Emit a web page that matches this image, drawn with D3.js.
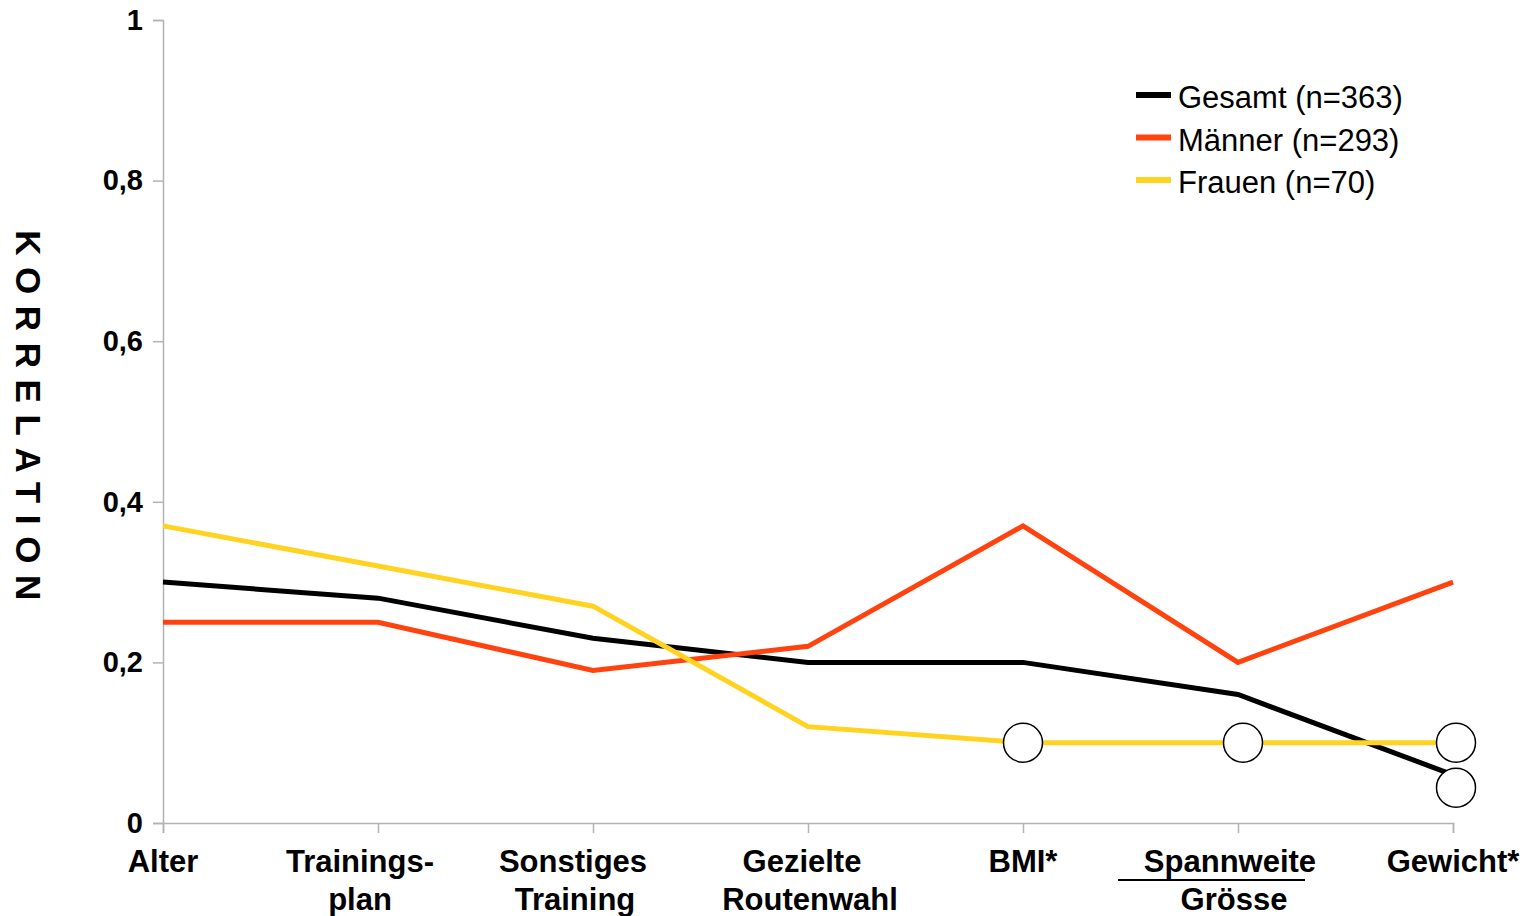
<!DOCTYPE html>
<html><head><meta charset="utf-8">
<script src="https://cdn.jsdelivr.net/npm/d3@7"></script>
<style>
html,body{margin:0;padding:0;background:#fff;}
svg{display:block;}
</style></head>
<body>
<svg id="chart" width="1528" height="916"></svg>
<script>
// ---- data ----
const categories = ["Alter", "Trainingsplan", "Sonstiges Training", "Gezielte Routenwahl", "BMI*", "Spannweite/Grösse", "Gewicht*"];
const categoryLabels = [["Alter"], ["Trainings-", "plan"], ["Sonstiges", "Training"], ["Gezielte", "Routenwahl"], ["BMI*"], ["Spannweite", "Grösse"], ["Gewicht*"]];
const gesamt = [0.30, 0.28, 0.23, 0.20, 0.20, 0.16, 0.06];
const maenner = [0.25, 0.25, 0.19, 0.22, 0.37, 0.20, 0.30];
const frauen = [0.37, 0.32, 0.27, 0.12, 0.10, 0.10, 0.10];
const seriesNames = ["Gesamt (n=363)", "Männer (n=293)", "Frauen (n=70)"];
const yTicks = [0, 0.2, 0.4, 0.6, 0.8, 1];
const yTickLabels = ["0", "0,2", "0,4", "0,6", "0,8", "1"];
// circled (highlighted) points: category index, value
const markerCats = [4, 5, 6, 6];
const markerVals = [0.10, 0.10, 0.10, 0.044];

const colors = ["#000000", "#ff420e", "#ffd320"];
const seriesValues = [gesamt, maenner, frauen];

const FONT = "Liberation Sans, Arial, sans-serif";
const svg = d3.select("#chart");
const x = d3.scalePoint().domain(categories).range([163, 1453]);
const y = d3.scaleLinear().domain([0, 1]).range([823, 20]);
const axisColor = "#b3b3b3";

// y axis
const yAxis = svg.append("g").attr("transform", "translate(163,0)")
  .call(d3.axisLeft(y).tickValues(yTicks).tickSize(10).tickPadding(10)
    .tickFormat((d, i) => yTickLabels[i]));
yAxis.select(".domain").attr("stroke", axisColor).attr("stroke-width", 1.5);
yAxis.selectAll(".tick line").attr("stroke", axisColor).attr("stroke-width", 1.5);
yAxis.selectAll(".tick text").attr("font-family", FONT)
  .attr("font-weight", "bold").attr("font-size", 29).attr("fill", "#000");

// x axis
const xAxis = svg.append("g").attr("transform", "translate(0,823)")
  .call(d3.axisBottom(x).tickSize(10).tickFormat(""));
xAxis.select(".domain").attr("stroke", axisColor).attr("stroke-width", 1.5);
xAxis.selectAll(".tick line").attr("stroke", axisColor).attr("stroke-width", 1.5);

// x labels
const labelDx = [0, -18, -20, -6, 0, -8, 0];
categories.forEach((c, i) => {
  const lines = categoryLabels[i];
  const t = svg.append("text")
    .attr("font-family", FONT)
    .attr("font-weight", "bold").attr("font-size", 31)
    .attr("text-anchor", "middle").attr("fill", "#000");
  lines.forEach((ln, j) => {
    t.append("tspan").attr("x", x(c) + labelDx[i] + (j === 1 && i === 2 ? 2 : 0) + (j === 1 && i === 3 ? 8 : 0) + (j === 1 && i === 5 ? 4 : 0))
      .attr("y", 872 + j * 38).text(ln);
  });
  if (c === "Spannweite/Grösse") {
    svg.append("line").attr("x1", x(c) - 120).attr("x2", x(c) + 67)
      .attr("y1", 880).attr("y2", 880).attr("stroke", "#000").attr("stroke-width", 2);
  }
});

// y title
svg.append("text")
  .attr("transform", "translate(16,421) rotate(90)")
  .attr("text-anchor", "middle")
  .attr("font-family", FONT)
  .attr("font-weight", "bold").attr("font-size", 35)
  .attr("letter-spacing", "11.6px")
  .attr("fill", "#000")
  .text("KORRELATION");

// lines
const line = d3.line().x((d, i) => x(categories[i])).y(d => y(d));
seriesValues.forEach((vals, k) => {
  svg.append("path").datum(vals)
    .attr("d", line)
    .attr("fill", "none")
    .attr("stroke", colors[k])
    .attr("stroke-width", 5)
    .attr("stroke-linejoin", "miter");
});

// circled markers
markerCats.forEach((ci, i) => {
  svg.append("circle")
    .attr("cx", x(categories[ci]) + (ci === 5 ? 5 : ci === 6 ? 3 : 0))
    .attr("cy", y(markerVals[i]))
    .attr("r", 19.5)
    .attr("fill", "#fff")
    .attr("stroke", "#000")
    .attr("stroke-width", 1.5);
});

// legend
const legend = svg.append("g");
seriesNames.forEach((n, k) => {
  const ly = 95 + k * 42.5;
  legend.append("line").attr("x1", 1136).attr("x2", 1171)
    .attr("y1", ly).attr("y2", ly).attr("stroke", colors[k]).attr("stroke-width", 6);
  legend.append("text").attr("x", 1178).attr("y", ly + 13)
    .attr("font-family", FONT)
    .attr("font-size", 31).attr("fill", "#000").text(n);
});
</script>
</body></html>
